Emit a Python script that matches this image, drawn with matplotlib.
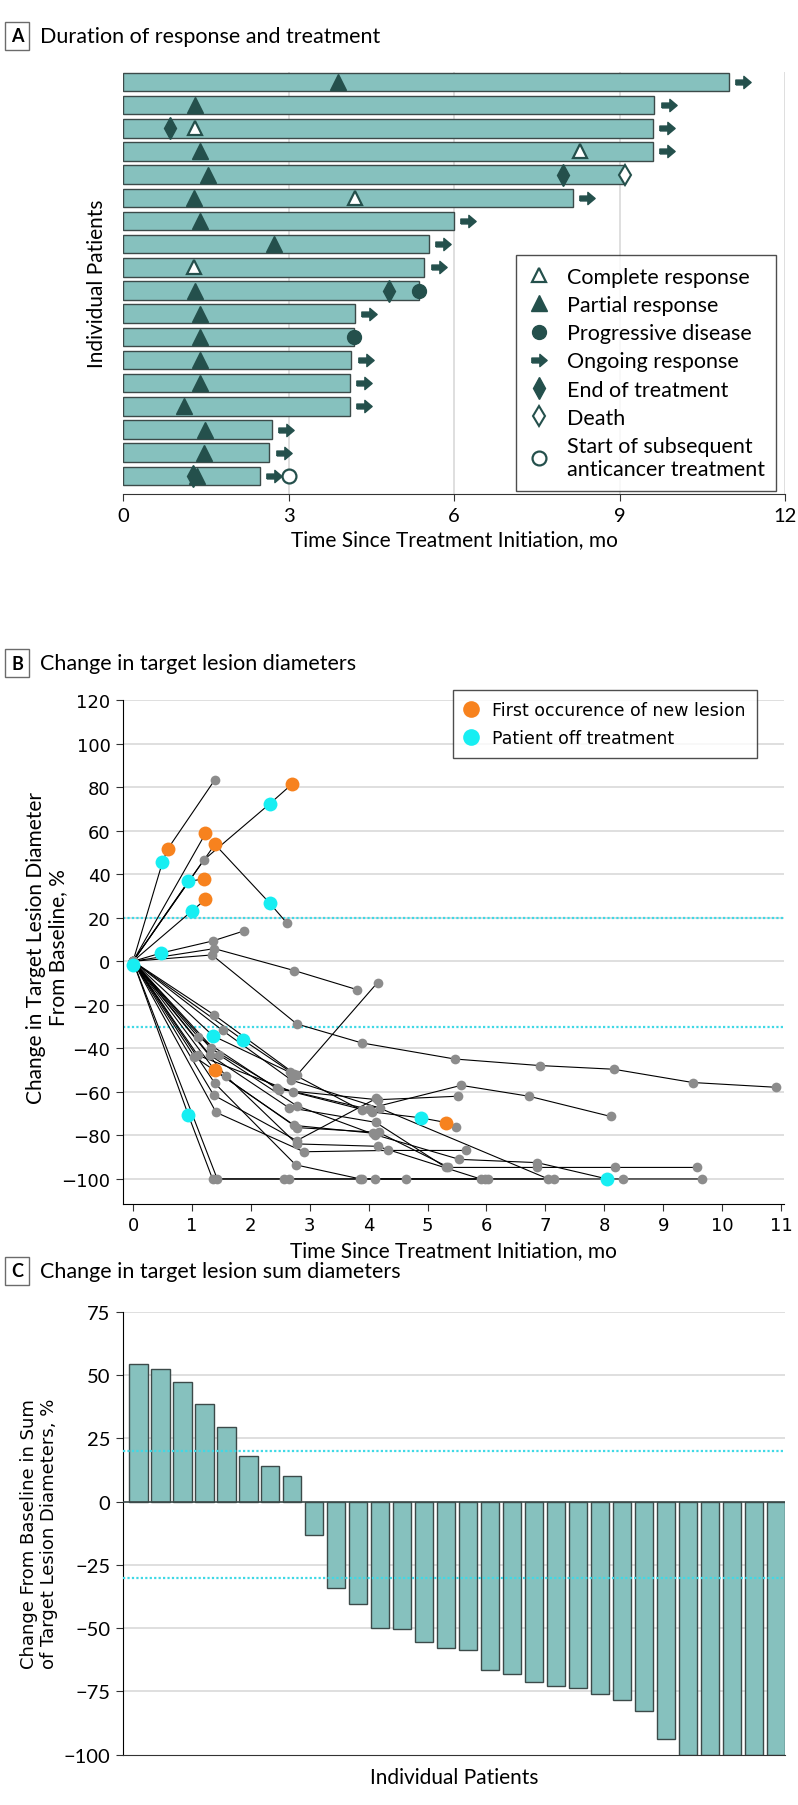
import matplotlib
matplotlib.use("Agg")
import matplotlib.pyplot as plt
from matplotlib.lines import Line2D
from matplotlib.path import Path

plt.rcParams['font.family'] = ['Lato', 'DejaVu Sans']

W, H = 798, 1806

# ---- panel A: duration of response (rows top -> bottom, months) ----
a_end = [10.98, 9.63, 9.60, 9.60, 9.10, 8.15, 6.00, 5.54, 5.46, 5.37,
         4.20, 4.18, 4.14, 4.11, 4.11, 2.70, 2.65, 2.48]
a_pr = [(1, 3.89), (2, 1.31), (4, 1.40), (5, 1.54), (6, 1.28), (7, 1.40),
        (8, 2.73), (10, 1.31), (11, 1.40), (12, 1.40), (13, 1.39), (14, 1.39),
        (15, 1.11), (16, 1.49), (17, 1.46), (18, 1.34)]
a_cr = [(3, 1.31), (4, 8.28), (6, 4.21), (9, 1.28)]
a_pd = [(10, 5.37), (12, 4.18)]
a_eot = [(3, 0.85), (5, 7.98), (10, 4.83), (18, 1.26)]
a_death = [(5, 9.10)]
a_ongoing = [1, 2, 3, 4, 6, 7, 8, 9, 11, 13, 14, 15, 16, 17, 18]
a_subseq = [(18, 3.0)]

# ---- panel B: target lesion trajectories (g=grey, o=new lesion, c=off treatment) ----
b_times = [
    [0, 0.50, 0.59, 1.39],
    [0, 1.20, 2.32, 2.70],
    [0, 1.39, 2.32, 2.61],
    [0, 1.23],
    [0, 0.94, 1.20],
    [0, 1.00, 1.23],
    [0, 0.48, 1.35, 1.88],
    [0, 1.38, 2.74, 3.81],
    [0, 1.34, 2.78, 3.88, 5.46, 6.90, 8.16, 9.50, 10.92],
    [0, 1.38, 2.78, 4.15],
    [0, 1.36, 2.66, 3.88, 5.57, 6.72, 8.11],
    [0, 1.86, 2.74],
    [0, 1.52, 2.69, 4.19, 7.05],
    [0, 1.10, 2.47, 4.15, 5.51],
    [0, 1.10, 2.71, 4.05, 4.88, 5.32, 5.49],
    [0, 1.30, 2.64, 4.12, 5.31, 6.86, 8.18, 9.58],
    [0, 1.46, 2.78, 4.10, 5.54, 6.86, 8.05],
    [0, 1.41, 2.90, 4.33, 5.66],
    [0, 1.39, 2.78, 4.17, 5.34],
    [0, 1.57, 2.78, 4.15, 5.90],
    [0, 1.39, 2.76, 3.86, 6.02],
    [0, 1.37, 2.78, 4.13],
    [0, 0.94, 1.35, 2.57, 4.11, 4.63, 5.97, 8.31, 9.65],
    [0, 1.43, 2.65, 3.88, 7.14],
    [0, 1.32, 2.44, 4.00],
    [0, 1.04, 2.74, 4.08],
    [0],
]
b_pcts = [
    [0, 45.5, 51.6, 83.4],
    [0, 46.5, 72.3, 81.4],
    [0, 53.7, 26.7, 17.6],
    [0, 58.7],
    [0, 36.7, 37.8],
    [0, 23.1, 28.4],
    [0, 3.8, 9.3, 13.9],
    [0, 5.8, -4.3, -13.1],
    [0, 2.9, -28.8, -37.5, -44.9, -47.9, -49.6, -55.7, -57.9],
    [0, -24.7, -52.4, -9.8],
    [0, -34.3, -51.0, -68.5, -57.0, -62.0, -71.3],
    [0, -36.0, -52.0],
    [0, -31.8, -54.6, -67.5, -100],
    [0, -34.6, -59.0, -63.6, -62.0],
    [0, -43.2, -60.0, -69.2, -71.9, -74.1, -76.1],
    [0, -43.0, -67.2, -74.0, -94.7, -94.7, -94.7, -94.7],
    [0, -43.0, -66.4, -79.6, -91.0, -92.5, -100],
    [0, -69.4, -87.5, -86.9, -86.9],
    [0, -50.1, -76.4, -78.6, -94.4],
    [0, -52.5, -83.9, -85.0, -100],
    [0, -56.1, -93.5, -100, -100],
    [0, -61.5, -82.4, -63.0],
    [0, -70.7, -100, -100, -100, -100, -100, -100, -100],
    [0, -100, -100, -100, -100],
    [0, -40.0, -58.0, -68.0],
    [0, -43.8, -75.4, -79.0],
    [-1.5],
]
b_flags = [
    'gcog', 'ggco', 'gocg', 'go', 'gco', 'gco', 'gcgg', 'gggg', 'ggggggggg',
    'gggg', 'gcggggg', 'gcg', 'ggggg', 'ggggg', 'ggggcog', 'gggggggg',
    'ggggggc', 'ggggg', 'goggg', 'ggggg', 'ggggg', 'gggg', 'gcggggggg',
    'ggggg', 'gggg', 'gggg', 'c',
]

# ---- panel C: best change in sum of diameters ----
c_vals = [54.5, 52.4, 47.2, 38.5, 29.4, 17.9, 14.2, 10.0, -13.1, -34.2,
          -40.5, -50.1, -50.5, -55.4, -57.8, -58.6, -66.6, -68.0, -71.4, -72.9,
          -73.7, -76.0, -78.4, -82.9, -93.8, -100, -100, -100, -100, -100]

BAR = '#86c1be'
BAR_EDGE = '#3c4a49'
MARK = '#24504c'
GRID = '#d9d9d9'
DOT = '#3fd9e6'
ORANGE = '#f7821e'
CYAN = '#17eef2'
GREY = '#8c8c8c'

arrow = Path([(-1, -0.32), (0.05, -0.32), (0.05, -0.8), (1, 0), (0.05, 0.8),
              (0.05, 0.32), (-1, 0.32), (-1, -0.32)])


def rect(l, t, r, b):
    return [l / W, 1 - b / H, (r - l) / W, (b - t) / H]


def panel_title(y, letter, text):
    fig.text(17 / W, 1 - y / H, letter, ha='center', va='center', fontsize=13,
             fontweight='bold', bbox=dict(boxstyle='square,pad=0.32', fc='white', ec='#6b6b6b', lw=1))
    fig.text(40 / W, 1 - y / H, text, ha='left', va='center', fontsize=15.5)


fig = plt.figure(figsize=(W / 100, H / 100), dpi=100)

# ================= A =================
ax = fig.add_axes(rect(123, 73, 785, 495))
rows = list(range(1, len(a_end) + 1))
ax.barh(rows, a_end, height=0.8, color=BAR, edgecolor=BAR_EDGE, linewidth=1, zorder=2)
for x in [3, 6, 9, 12]:
    ax.axvline(x, color=GRID, lw=1.2, zorder=0)

ax.plot([t for r, t in a_eot], [r for r, t in a_eot], 'd', color=MARK, ms=11, zorder=3)
ax.plot([t for r, t in a_pr], [r for r, t in a_pr], '^', color=MARK, ms=11, zorder=4)
ax.plot([t for r, t in a_cr], [r for r, t in a_cr], '^', mfc='white', mec=MARK, mew=1.6, ms=10, zorder=4)
ax.plot([t for r, t in a_pd], [r for r, t in a_pd], 'o', color=MARK, ms=10, zorder=4)
ax.plot([t for r, t in a_death], [r for r, t in a_death], 'd', mfc='white', mec=MARK, mew=1.5, ms=10, zorder=4)
ax.plot([a_end[r - 1] + 0.26 for r in a_ongoing], a_ongoing, marker=arrow, ls='', color=MARK, ms=11, zorder=4)
ax.plot([t for r, t in a_subseq], [r for r, t in a_subseq], 'o', mfc='white', mec=MARK, mew=1.6, ms=10, zorder=4)

ax.set_xlim(0, 12)
ax.set_ylim(18.78, 0.57)
ax.set_xticks([0, 3, 6, 9, 12])
ax.set_yticks([])
for s in ['top', 'right', 'left']:
    ax.spines[s].set_visible(False)
ax.spines['bottom'].set_color('#333333')
ax.tick_params(axis='x', length=5, color='#333333', labelsize=14.5, pad=4)
ax.set_xlabel('Time Since Treatment Initiation, mo', fontsize=15, labelpad=4)
fig.text(97 / W, 1 - 284 / H, 'Individual Patients', rotation=90, ha='center', va='center', fontsize=15)

handles = [
    Line2D([], [], ls='', marker='^', mfc='white', mec=MARK, mew=1.6, ms=10),
    Line2D([], [], ls='', marker='^', color=MARK, ms=11),
    Line2D([], [], ls='', marker='o', color=MARK, ms=10),
    Line2D([], [], ls='', marker=arrow, color=MARK, ms=11),
    Line2D([], [], ls='', marker='d', color=MARK, ms=11),
    Line2D([], [], ls='', marker='d', mfc='white', mec=MARK, mew=1.5, ms=10),
    Line2D([], [], ls='', marker='o', mfc='white', mec=MARK, mew=1.6, ms=10),
]
labels = ['Complete response', 'Partial response', 'Progressive disease', 'Ongoing response',
          'End of treatment', 'Death', 'Start of subsequent\nanticancer treatment']
leg = ax.legend(handles, labels, loc='upper left', bbox_to_anchor=(516 / W, 1 - 256 / H),
                bbox_transform=fig.transFigure, fontsize=15.5, frameon=True, fancybox=False,
                borderaxespad=0, handlelength=1.0, handletextpad=0.8, labelspacing=0.38,
                borderpad=0.55)
leg.get_frame().set_edgecolor('#222222')
leg.get_frame().set_linewidth(1)
panel_title(37, 'A', 'Duration of response and treatment')

# ================= B =================
bx = fig.add_axes(rect(123, 701, 784, 1205))
for y in range(-100, 121, 20):
    bx.axhline(y, color=GRID, lw=1.2, zorder=0)
bx.axhline(20, color=DOT, lw=1.6, ls=(0, (1, 1)), zorder=1)
bx.axhline(-30, color=DOT, lw=1.6, ls=(0, (1, 1)), zorder=1)

for t, v, f in zip(b_times, b_pcts, b_flags):
    bx.plot(t, v, color='black', lw=0.8, zorder=2)
    gt = [ti for ti, fi in zip(t, f) if fi == 'g']
    gv = [vi for vi, fi in zip(v, f) if fi == 'g']
    bx.plot(gt, gv, 'o', color=GREY, ms=7, mew=0, zorder=3)
for flag, col in [('o', ORANGE), ('c', CYAN)]:
    pt = [ti for t, f in zip(b_times, b_flags) for ti, fi in zip(t, f) if fi == flag]
    pv = [vi for v, f in zip(b_pcts, b_flags) for vi, fi in zip(v, f) if fi == flag]
    bx.plot(pt, pv, 'o', color=col, ms=10, mew=0, zorder=4)

bx.set_xlim(-0.17, 11.05)
bx.set_ylim(-111.5, 120)
bx.set_xticks(range(0, 12))
bx.set_yticks(range(-100, 121, 20))
for lab in bx.get_xticklabels() + bx.get_yticklabels():
    lab.set_fontfamily('DejaVu Sans')
    lab.set_fontsize(13)
for s in ['top', 'right']:
    bx.spines[s].set_visible(False)
bx.tick_params(length=5, color='#333333', pad=4)
bx.set_xlabel('Time Since Treatment Initiation, mo', fontsize=15, labelpad=4)
fig.text(47 / W, 1 - 948 / H, 'Change in Target Lesion Diameter\nFrom Baseline, %', rotation=90,
         ha='center', va='center', fontsize=15, linespacing=1.1)

bh = [Line2D([], [], ls='', marker='o', color=ORANGE, ms=12, mew=0),
      Line2D([], [], ls='', marker='o', color=CYAN, ms=12, mew=0)]
leg = bx.legend(bh, ['First occurence of new lesion', 'Patient off treatment'], loc='upper left',
                bbox_to_anchor=(453 / W, 1 - 691 / H), bbox_transform=fig.transFigure,
                prop={'family': 'DejaVu Sans', 'size': 12.5}, frameon=True, fancybox=False,
                borderaxespad=0, handlelength=0.8, handletextpad=0.8, labelspacing=0.55, borderpad=0.65)
leg.get_frame().set_edgecolor('#222222')
leg.get_frame().set_linewidth(1)
panel_title(664, 'B', 'Change in target lesion diameters')

# ================= C =================
cx = fig.add_axes(rect(123, 1312.7, 785, 1755.7))
for y in [75, 50, 25, -25, -50, -75]:
    cx.axhline(y, color=GRID, lw=1.2, zorder=0)
idx = list(range(len(c_vals)))
cx.bar(idx, c_vals, width=0.84, color=BAR, edgecolor=BAR_EDGE, linewidth=1, zorder=2)
cx.axhline(0, color=BAR_EDGE, lw=1.2, zorder=3)
cx.axhline(20, color=DOT, lw=1.6, ls=(0, (1, 1)), zorder=4)
cx.axhline(-30, color=DOT, lw=1.6, ls=(0, (1, 1)), zorder=4)
cx.set_xlim(-0.70, len(c_vals) - 0.58)
cx.set_ylim(-100, 75)
cx.set_xticks([])
cx.set_yticks([75, 50, 25, 0, -25, -50, -75, -100])
for s in ['top', 'right']:
    cx.spines[s].set_visible(False)
cx.spines['bottom'].set_color('#333333')
cx.tick_params(axis='y', length=5, color='#333333', labelsize=14.5, pad=4)
cx.set_xlabel('Individual Patients', fontsize=15, labelpad=9)
fig.text(39 / W, 1 - 1534 / H, 'Change From Baseline in Sum\nof Target Lesion Diameters, %',
         rotation=90, ha='center', va='center', fontsize=13, fontfamily='DejaVu Sans', linespacing=1.1)
panel_title(1272, 'C', 'Change in target lesion sum diameters')

fig.savefig('out.png', dpi=100)
